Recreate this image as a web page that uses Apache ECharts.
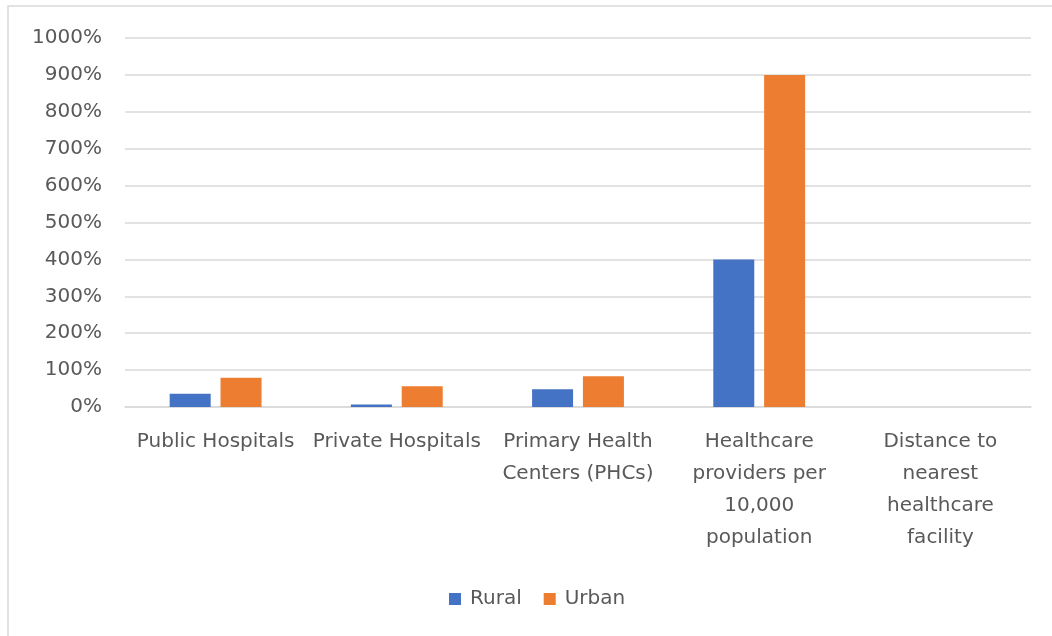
<!DOCTYPE html>
<html>
<head>
<meta charset="utf-8">
<script src="https://cdn.jsdelivr.net/npm/echarts@6/dist/echarts.min.js"></script>
<style>
html,body{margin:0;padding:0;background:#fff;}
#chart{width:1052px;height:636px;}
</style>
</head>
<body>
<div id="chart"></div>
<script>
const categories = [
  'Public Hospitals',
  'Private Hospitals',
  'Primary Health\nCenters (PHCs)',
  'Healthcare\nproviders per\n10,000\npopulation',
  'Distance to\nnearest\nhealthcare\nfacility'
];
const rural = [36, 7, 48, 400, 0];
const urban = [79, 56, 83, 900, 0];
const yTicks = { min: 0, max: 1000, interval: 100 };

const FONT = '"DejaVu Sans", "Noto Sans", sans-serif';
const TXT = '#595959';

const chart = echarts.init(document.getElementById('chart'), null, { renderer: 'canvas' });
chart.setOption({
  animation: false,
  backgroundColor: '#fff',
  textStyle: { fontFamily: FONT },
  graphic: [{
    type: 'rect',
    shape: { x: 8, y: 6, width: 1100, height: 700 },
    style: { fill: 'none', stroke: '#d9d9d9', lineWidth: 1.5 },
    silent: true
  }],
  grid: { left: 125, right: 21, top: 38, bottom: 229, containLabel: false },
  legend: {
    data: ['Rural', 'Urban'],
    left: 444,
    top: 584,
    itemWidth: 12,
    itemHeight: 12,
    itemGap: 22,
    icon: 'rect',
    textStyle: { color: TXT, fontSize: 20, fontFamily: FONT, padding: [0, 0, 0, 4] }
  },
  xAxis: {
    type: 'category',
    data: categories,
    axisLine: { lineStyle: { color: '#d9d9d9', width: 1.5 } },
    axisTick: { show: false },
    axisLabel: {
      interval: 0,
      color: TXT,
      fontSize: 20,
      lineHeight: 32,
      margin: 19,
      fontFamily: FONT
    }
  },
  yAxis: {
    type: 'value',
    min: yTicks.min,
    max: yTicks.max,
    interval: yTicks.interval,
    axisLine: { show: false },
    axisTick: { show: false },
    splitLine: { lineStyle: { color: '#d9d9d9', width: 1.5 } },
    axisLabel: {
      color: TXT,
      fontSize: 20,
      margin: 23,
      fontFamily: FONT,
      formatter: v => v + '%'
    }
  },
  series: [
    {
      name: 'Rural', type: 'bar', data: rural,
      barWidth: 41, barGap: '24%',
      itemStyle: { color: '#4472c4' }
    },
    {
      name: 'Urban', type: 'bar', data: urban,
      barWidth: 41,
      itemStyle: { color: '#ed7d31' }
    }
  ]
});
</script>
</body>
</html>
